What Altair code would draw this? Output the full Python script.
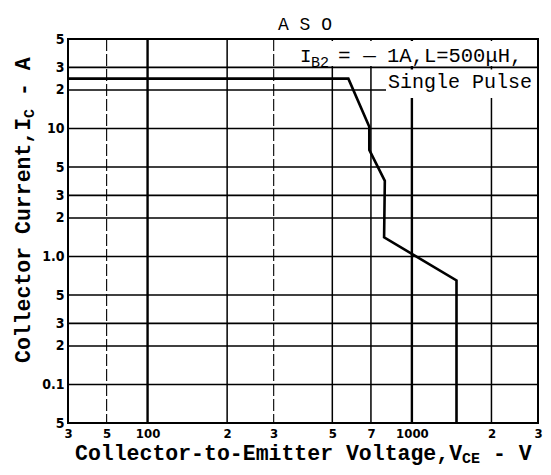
import altair as alt
import pandas as pd

# ---------------- data ----------------
curve_v = [50, 575, 690, 690, 790, 785, 1475, 1475]
curve_i = [24.5, 24.5, 10.3, 6.8, 3.9, 1.41, 0.65, 0.05]

x_tick_values = [50, 70, 100, 200, 300, 500, 700, 1000, 2000, 3000]
x_tick_labels = ["3", "5", "100", "2", "3", "5", "7", "1000", "2", "3"]
y_tick_values = [0.05, 0.1, 0.2, 0.3, 0.5, 1, 2, 3, 5, 10, 20, 30, 50]
y_tick_labels = ["5", "0.1", "2", "3", "5", "1.0", "2", "3", "5", "10", "2", "3", "5"]

x_grid_major = [100, 1000]
x_grid_minor = [200, 500, 700, 2000]
x_grid_dashed = [70, 300]
y_grid = [0.1, 0.2, 0.3, 0.5, 1, 2, 3, 5, 10, 20, 30]

NB = "\u00a0"
title_text = "A S O"
x_title_main, x_title_sub, x_title_tail = "Collector-to-Emitter Voltage,V", "CE", "-" + NB + "V"
y_title_main, y_title_sub, y_title_tail = "Collector Current,I", "C", "-" + NB + "A"
note_i, note_sub, note_eq, note_rest = "I", "B2", "=" + NB + "\u2014", "1A,L=500\u03bcH,"
note_line2 = "Single Pulse"

# ---------------- helpers ----------------
W, H = 470, 384
MONO = "Liberation Mono, DejaVu Sans Mono, monospace"
TICKFONT = "DejaVu Sans Condensed, Liberation Sans Narrow, Liberation Sans, sans-serif"


def label_expr(values, labels):
    expr = "''"
    for v, l in zip(values, labels):
        expr = f"datum.value == {v} ? '{l}' : (" + expr + ")"
    return expr


xscale = alt.Scale(type="log", domain=[50, 3000], nice=False)
yscale = alt.Scale(type="log", domain=[0.05, 50], nice=False)

xaxis = alt.Axis(values=x_tick_values, labelExpr=label_expr(x_tick_values, x_tick_labels),
                 grid=False, ticks=False, domain=False, labelFlush=False, labelOverlap=False,
                 labelPadding=4, labelFontSize=13, labelFontWeight="bold", labelFont=TICKFONT,
                 labelColor="black", title=None)
yaxis = alt.Axis(values=y_tick_values, labelExpr=label_expr(y_tick_values, y_tick_labels),
                 grid=False, ticks=False, domain=False, labelFlush=False, labelOverlap=False,
                 labelPadding=4, labelFontSize=14, labelFontWeight="bold", labelFont=TICKFONT,
                 labelColor="black", labelBaseline="middle", title=None)

X = lambda f: alt.X(f, type="quantitative", scale=xscale, axis=xaxis)
Y = lambda f: alt.Y(f, type="quantitative", scale=yscale, axis=yaxis)

one = pd.DataFrame({"k": [0]})

# ---------------- grid ----------------
gx_major = alt.Chart(pd.DataFrame({"v": x_grid_major})).mark_rule(color="black", strokeWidth=2.4).encode(x=X("v"))
gx_minor = alt.Chart(pd.DataFrame({"v": x_grid_minor})).mark_rule(color="black", strokeWidth=1.5).encode(x=X("v"))
gx_dash = alt.Chart(pd.DataFrame({"v": x_grid_dashed})).mark_rule(color="black", strokeWidth=1.1, strokeDash=[12, 3]).encode(x=X("v"))
gy = alt.Chart(pd.DataFrame({"v": y_grid})).mark_rule(color="black", strokeWidth=1.6).encode(y=Y("v"))

# white boxes behind the annotation
box1 = alt.Chart(one).mark_rect(color="white").encode(
    x=alt.value(232), x2=alt.value(469), y=alt.value(2), y2=alt.value(27))
box2 = alt.Chart(one).mark_rect(color="white").encode(
    x=alt.value(318), x2=alt.value(469), y=alt.value(30.5), y2=alt.value(59))

# ---------------- curve ----------------
curve_df = pd.DataFrame({"v": curve_v, "i": curve_i, "o": list(range(len(curve_v)))})
curve = alt.Chart(curve_df).mark_line(color="black", strokeWidth=2.6, strokeJoin="miter").encode(
    x=X("v"), y=Y("i"), order="o:Q")


def txt(s, x, y, size, font=MONO, weight="normal", align="left", angle=0, baseline="alphabetic"):
    return alt.Chart(one).mark_text(font=font, fontSize=size, fontWeight=weight, align=align,
                                     baseline=baseline, angle=angle, color="black").encode(
        x=alt.value(x), y=alt.value(y), text=alt.value(s))


# ---------------- texts ----------------
texts = []
texts.append(txt(title_text, 237, -9, 18, align="center"))

# x title
fx, fxs = 21.5, 15
x0 = 7
texts.append(txt(x_title_main, x0, 421, fx, weight="bold"))
x1 = x0 + 0.6 * fx * len(x_title_main)
texts.append(txt(x_title_sub, x1, 424, fxs, weight="bold"))
x2 = x1 + 0.6 * fxs * len(x_title_sub) + 0.6 * fx
texts.append(txt(x_title_tail, x2, 421, fx, weight="bold"))

# y title (rotated)
fy, fys = 21.5, 15
ya = 324
texts.append(txt(y_title_main, -38, ya, fy, weight="bold", angle=270))
yb = ya - 0.6 * fy * len(y_title_main)
texts.append(txt(y_title_sub, -34, yb, fys, weight="bold", angle=270))
yc = yb - 0.6 * fys * len(y_title_sub) - 0.6 * fy
texts.append(txt(y_title_tail, -38, yc, fy, weight="bold", angle=270))

# annotation
texts.append(txt(note_i, 232, 23, 19))
texts.append(txt(note_sub, 243, 28, 15))
texts.append(txt(note_eq, 270, 23, 21))
texts.append(txt(note_rest, 319, 23, 20.5))
texts.append(txt(note_line2, 320, 49, 20))

chart = alt.layer(gx_major, gx_minor, gx_dash, gy, box1, box2, curve, *texts).properties(
    width=W, height=H,
    padding={"left": 60, "top": 31, "right": 5, "bottom": 44},
    autosize=alt.AutoSizeParams(type="none"),
    background="white",
).configure_view(stroke="black", strokeWidth=2)

chart.save("out.html", embed_options={"renderer": "svg", "actions": False})
